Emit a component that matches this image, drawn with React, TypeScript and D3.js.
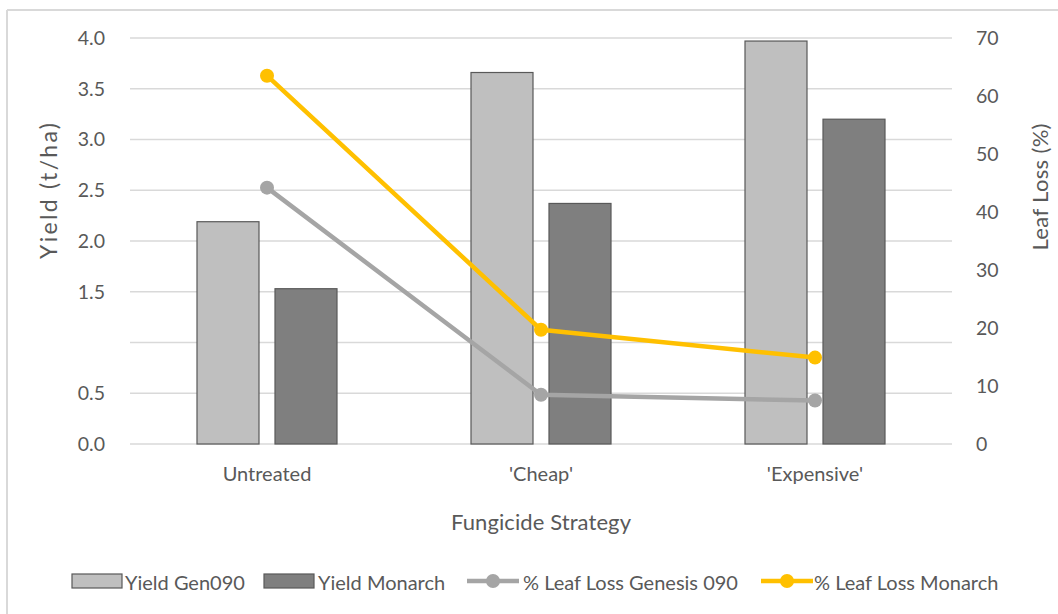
import React from "react";
import * as d3 from "d3";

const categories = ["Untreated", "'Cheap'", "'Expensive'"];
const yieldGen090 = [2.19, 3.66, 3.97];
const yieldMonarch = [1.53, 2.37, 3.2];
const leafLossGenesis = [44.2, 8.5, 7.5];
const leafLossMonarch = [63.5, 19.7, 14.9];
const leftTicks = [0, 0.5, 1.0, 1.5, 2.0, 2.5, 3.0, 3.5, 4.0];
const leftLabels = ["0.0", "0.5", "", "1.5", "2.0", "2.5", "3.0", "3.5", "4.0"];
const rightTicks = [0, 10, 20, 30, 40, 50, 60, 70];

const W = 1058;
const H = 614;
const FONT = "Lato, 'Open Sans', sans-serif";
const TXT = "#595959";

export default function App() {
  const x0 = 130, x1 = 952, yTop = 38, yBot = 444;
  const x = d3.scaleBand<string>().domain(categories).range([x0, x1]).paddingInner(0).paddingOuter(0);
  const yL = d3.scaleLinear().domain([0, 4]).range([yBot, yTop]);
  const yR = d3.scaleLinear().domain([0, 70]).range([yBot, yTop]);
  const barW = 62, gap = 16;
  const cx = (c: string) => (x(c) as number) + x.bandwidth() / 2;
  const line = d3.line<[number, number]>().x(d => d[0]).y(d => d[1]);

  const series = [
    { name: "Yield Gen090", vals: yieldGen090, fill: "#bfbfbf", off: -gap / 2 - barW },
    { name: "Yield Monarch", vals: yieldMonarch, fill: "#7f7f7f", off: gap / 2 },
  ];
  const lines = [
    { name: "% Leaf Loss Genesis 090", vals: leafLossGenesis, color: "#a5a5a5" },
    { name: "% Leaf Loss Monarch", vals: leafLossMonarch, color: "#ffc000" },
  ];

  const legend = [
    { type: "bar", label: "Yield Gen090", color: "#bfbfbf", x: 72, tx: 125 },
    { type: "bar", label: "Yield Monarch", color: "#7f7f7f", x: 264, tx: 318 },
    { type: "line", label: "% Leaf Loss Genesis 090", color: "#a5a5a5", x: 467, tx: 523 },
    { type: "line", label: "% Leaf Loss Monarch", color: "#ffc000", x: 761, tx: 814 },
  ];
  const ly = 581;

  return (
    <svg width={W} height={H} style={{ position: "absolute", left: 0, top: 0, background: "#fff" }} fontFamily={FONT}>
      <rect x={0} y={0} width={W} height={H} fill="#fff" />
      <line x1={7} x2={W} y1={10} y2={10} stroke="#d9d9d9" strokeWidth={2} />
      <line x1={7} x2={7} y1={10} y2={H} stroke="#d9d9d9" strokeWidth={2} />
      {leftTicks.map((t, i) => (
        <line key={"g" + i} x1={x0} x2={x1} y1={yL(t)} y2={yL(t)} stroke="#d9d9d9" strokeWidth={1.3} />
      ))}
      {leftTicks.map((t, i) => (
        <text key={"lt" + i} x={105} y={yL(t)} dy="0.35em" textAnchor="end" fontSize={19.5} fill={TXT}>{leftLabels[i]}</text>
      ))}
      {rightTicks.map((t, i) => (
        <text key={"rt" + i} x={976} y={yR(t)} dy="0.35em" textAnchor="start" fontSize={19.5} fill={TXT}>{t}</text>
      ))}
      {series.map(s => s.vals.map((v, i) => (
        <rect key={s.name + i} x={cx(categories[i]) + s.off} y={yL(v)} width={barW} height={yBot - yL(v)}
          fill={s.fill} stroke="#595959" strokeWidth={1.2} />
      )))}
      {lines.map(l => (
        <g key={l.name}>
          <path d={line(l.vals.map((v, i) => [cx(categories[i]), yR(v)] as [number, number])) || ""}
            fill="none" stroke={l.color} strokeWidth={4.5} strokeLinejoin="round" />
          {l.vals.map((v, i) => (
            <circle key={i} cx={cx(categories[i])} cy={yR(v)} r={7} fill={l.color} />
          ))}
        </g>
      ))}
      {categories.map(c => (
        <text key={c} x={cx(c)} y={474} dy="0.35em" textAnchor="middle" fontSize={20} fill={TXT}>{c}</text>
      ))}
      <text x={(x0 + x1) / 2} y={522} dy="0.35em" textAnchor="middle" fontSize={22} fill={TXT}
        textLength={180} lengthAdjust="spacing">Fungicide Strategy</text>
      <text transform={`translate(49,191) rotate(-90)`} dy="0.35em" textAnchor="middle" fontSize={23} fill={TXT}
        textLength={136} lengthAdjust="spacing">Yield (t/ha)</text>
      <text transform={`translate(1040,187) rotate(-90)`} dy="0.35em" textAnchor="middle" fontSize={22} fill={TXT}
        textLength={127} lengthAdjust="spacing">Leaf Loss (%)</text>
      {legend.map(l => (
        <g key={l.label}>
          {l.type === "bar" ? (
            <rect x={l.x} y={ly - 7} width={50} height={14} fill={l.color} stroke="#595959" strokeWidth={1.2} />
          ) : (
            <g>
              <line x1={l.x} x2={l.x + 52} y1={ly} y2={ly} stroke={l.color} strokeWidth={4.5} />
              <circle cx={l.x + 26} cy={ly} r={7} fill={l.color} />
            </g>
          )}
          <text x={l.tx} y={ly + 1.5} dy="0.35em" fontSize={20} fill={TXT}>{l.label}</text>
        </g>
      ))}
    </svg>
  );
}
